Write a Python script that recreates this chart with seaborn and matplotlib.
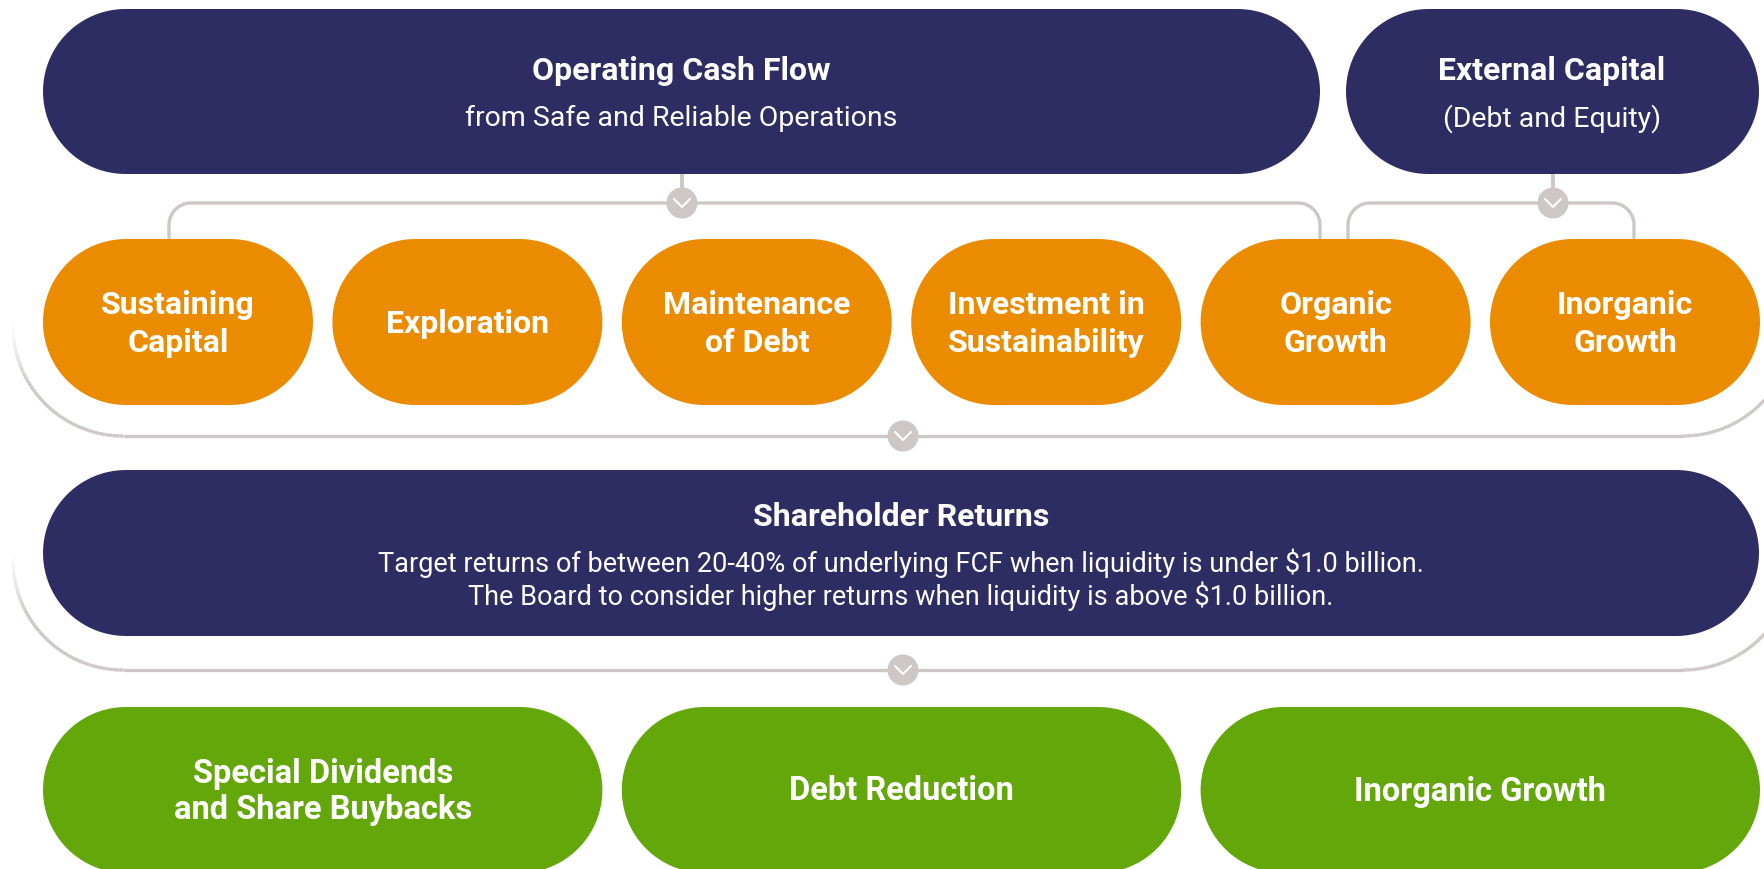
import matplotlib
matplotlib.use("Agg")
import matplotlib.pyplot as plt
from matplotlib.collections import LineCollection
import numpy as np
import pandas as pd
import seaborn as sns

# texts of the boxes
top_titles = ["Operating Cash Flow", "External Capital"]
top_subtitles = ["from Safe and Reliable Operations", "(Debt and Equity)"]
use_labels = ["Sustaining\nCapital", "Exploration", "Maintenance\nof Debt",
              "Investment in\nSustainability", "Organic\nGrowth", "Inorganic\nGrowth"]
returns_title = "Shareholder Returns"
returns_lines = ["Target returns of between 20-40% of underlying FCF when liquidity is under $1.0 billion.",
                 "The Board to consider higher returns when liquidity is above $1.0 billion."]
excess_labels = ["Special Dividends\nand Share Buybacks", "Debt Reduction", "Inorganic Growth"]

NAVY = "#2E2D63"
ORANGE = "#EB8C00"
GREEN = "#64A70B"
GREY = "#CDC8C5"

W, H = 1765, 869
sns.set_theme(style="white")
plt.rcParams["font.family"] = ["Roboto", "DejaVu Sans"]

fig = plt.figure(figsize=(W / 100, H / 100), dpi=100)
ax = fig.add_axes([0, 0, 1, 1])
ax.set_xlim(0, W)
ax.set_ylim(H, 0)
ax.axis("off")

LEFT, RIGHT, GAP = 43, 1760, 19.4
colw = (RIGHT - LEFT - 5 * GAP) / 6
LW = 2.4


def col_x(i, span=1):
    x0 = LEFT + i * (colw + GAP)
    return x0, x0 + span * colw + (span - 1) * GAP


def arc(cx, cy, r, a0, a1, n=30):
    t = np.radians(np.linspace(a0, a1, n))
    return cx + r * np.cos(t), cy + r * np.sin(t)


def pill(x0, x1, y0, y1, color):
    # stadium shape: straight sides with half-circle ends
    r = (y1 - y0) / 2
    yc = y0 + r
    lx, ly = arc(x0 + r, yc, r, 90, 270, 60)
    rx, ry = arc(x1 - r, yc, r, -90, 90, 60)
    ax.fill(np.r_[lx, rx], np.r_[ly, ry], color=color, lw=0, zorder=3)


def label(x, yc, text, size, step=38):
    lines = text.split("\n")
    n = len(lines)
    for k, ln in enumerate(lines):
        y = yc + (k - (n - 1) / 2) * step
        ax.text(x, y, ln, color="white", fontsize=size, ha="center", va="center_baseline",
                fontweight="bold", zorder=5)


def bracket(xa, xb, ytop, ybot, r=22):
    xs, ys = [xa], [ybot]
    a, b = arc(xa + r, ytop + r, r, 180, 270)
    xs += list(a); ys += list(b)
    a, b = arc(xb - r, ytop + r, r, 270, 360)
    xs += list(a); ys += list(b)
    xs.append(xb); ys.append(ybot)
    ax.plot(xs, ys, color=GREY, lw=LW, solid_capstyle="butt", zorder=2)


def ushape(xl, xr, ybot, yend, fade, r=110):
    xs = list(np.full(20, xl)); ys = list(np.linspace(yend, ybot - r, 20))
    a, b = arc(xl + r, ybot - r, r, 180, 90, 50)
    xs += list(a); ys += list(b)
    a, b = arc(xr - r, ybot - r, r, 90, 0, 50)
    xs += list(a); ys += list(b)
    xs += list(np.full(20, xr)); ys += list(np.linspace(ybot - r, yend, 20))
    pts = np.column_stack([xs, ys])
    segs = np.stack([pts[:-1], pts[1:]], axis=1)
    ymid = segs[:, :, 1].mean(axis=1)
    alpha = np.clip((ymid - yend) / fade, 0, 1) ** 1.5
    rgb = matplotlib.colors.to_rgb(GREY)
    cols = [(rgb[0], rgb[1], rgb[2], a_) for a_ in alpha]
    ax.add_collection(LineCollection(segs, colors=cols, lw=LW, zorder=1))


# top row
pill(43, 1320, 9, 174, NAVY)
pill(1346, 1759, 9, 174, NAVY)
for xc, t, s in zip([681, 1552], top_titles, top_subtitles):
    ax.text(xc, 68, t, color="white", fontsize=23, fontweight="bold", ha="center",
            va="center_baseline", zorder=5)
    ax.text(xc, 115, s, color="white", fontsize=20.5, ha="center", va="center_baseline", zorder=5)

# connectors from the top row
ax.plot([682, 682], [174, 203], color=GREY, lw=2.8, zorder=2)
ax.plot([1553, 1553], [174, 203], color=GREY, lw=2.8, zorder=2)
bracket(169, 1320, 203, 239)
bracket(1348, 1634, 203, 239)

# use of cash row
for i, lab in enumerate(use_labels):
    x0, x1 = col_x(i)
    pill(x0, x1, 239, 405, ORANGE)
    label((x0 + x1) / 2, 321, lab, 23)

ushape(13, 1793, 436, 318, 65)

# shareholder returns
pill(43, 1759, 470, 636, NAVY)
ax.text(901, 514, returns_title, color="white", fontsize=23, fontweight="bold",
        ha="center", va="center_baseline", zorder=5)
for k, ln in enumerate(returns_lines):
    ax.text(901, 560 + k * 33, ln, color="white", fontsize=19.5, ha="center",
            va="center_baseline", zorder=5)

ushape(13, 1793, 670, 548, 65)

# excess cash row
for i, lab in enumerate(excess_labels):
    x0, x1 = col_x(2 * i, span=2)
    pill(x0, x1, 707, 873, GREEN)
    label((x0 + x1) / 2, 788, lab, 23.5, step=36)

# connector nodes
nodes = pd.DataFrame({"x": [682, 1553, 903, 903], "y": [203, 203, 436, 670]})
sns.scatterplot(data=nodes, x="x", y="y", s=500, color=GREY, edgecolor="none",
                ax=ax, zorder=6, legend=False)
for x, y in zip(nodes["x"], nodes["y"]):
    ax.plot([x - 8, x, x + 8], [y - 4, y + 4, y - 4], color="white", lw=1.5, zorder=7)

ax.set_xlim(0, W)
ax.set_ylim(H, 0)
ax.axis("off")
fig.savefig("out.png", dpi=100)
